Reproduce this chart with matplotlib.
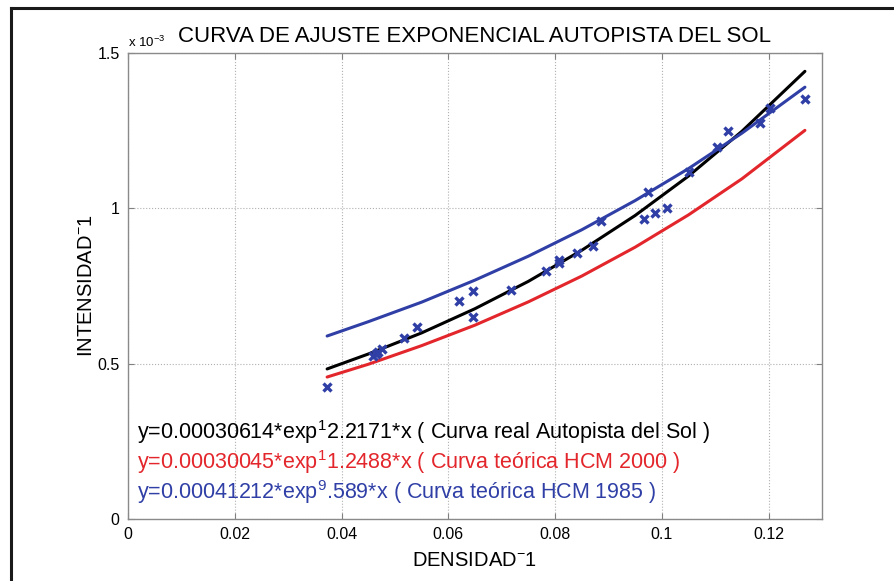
import numpy as np
import matplotlib
matplotlib.use("Agg")
import matplotlib.pyplot as plt
from matplotlib.lines import Line2D

plt.rcParams['font.family'] = ['Liberation Sans', 'DejaVu Sans']
plt.rcParams['mathtext.fontset'] = 'custom'
plt.rcParams['mathtext.rm'] = 'Liberation Sans'
plt.rcParams['mathtext.default'] = 'regular'

# datos medidos (densidad^-1, intensidad^-1 en unidades de 1e-3)
dens = [0.0373, 0.0458, 0.0465, 0.0469, 0.0475, 0.0517, 0.0542, 0.0620,
        0.0646, 0.0647, 0.0717, 0.0783, 0.0807, 0.0807, 0.0842, 0.0871,
        0.0886, 0.0967, 0.0975, 0.0987, 0.1009, 0.1051, 0.1104, 0.1123,
        0.1183, 0.1203, 0.1268]
inten = [0.424, 0.525, 0.531, 0.539, 0.546, 0.582, 0.617, 0.702,
         0.735, 0.651, 0.737, 0.799, 0.835, 0.823, 0.857, 0.879,
         0.960, 0.965, 1.054, 0.984, 1.001, 1.118, 1.198, 1.249,
         1.276, 1.322, 1.352]

# curvas de ajuste (unidades de 1e-3)
xc = [0.0373, 0.045, 0.055, 0.065, 0.075, 0.085, 0.095, 0.105, 0.115, 0.1268]
y_real = [0.483, 0.531, 0.599, 0.677, 0.765, 0.865, 0.977, 1.104, 1.248, 1.441]
y_2000 = [0.457, 0.498, 0.558, 0.624, 0.699, 0.782, 0.875, 0.979, 1.095, 1.251]
y_1985 = [0.589, 0.635, 0.698, 0.769, 0.846, 0.931, 1.025, 1.128, 1.242, 1.390]

etiquetas = ['y=0.00030614*exp$^1$2.2171*x ( Curva real Autopista del Sol )',
             'y=0.00030045*exp$^1$1.2488*x ( Curva teórica HCM 2000 )',
             'y=0.00041212*exp$^9$.589*x ( Curva teórica HCM 1985 )']
pos_y = [0.280, 0.183, 0.087]

negro = '#000000'
rojo = '#e3262b'
azul = '#2f3fa6'

fig = plt.figure(figsize=(8.94, 5.81), dpi=100)
ax = fig.add_axes([128/894, 1 - 519/581, 694/894, 466/581])

ax.plot(xc, y_real, color=negro, lw=2.2, solid_capstyle='round')
ax.plot(xc, y_2000, color=rojo, lw=2.2, solid_capstyle='round')
ax.plot(xc, y_1985, color=azul, lw=2.2, solid_capstyle='round')
ax.plot(dens, inten, 'x', color=azul, ms=6, mew=2.4)

ax.set_xlim(0, 0.13)
ax.set_ylim(0, 1.5)
ax.set_xticks([0, 0.02, 0.04, 0.06, 0.08, 0.1, 0.12])
ax.set_xticklabels(['0', '0.02', '0.04', '0.06', '0.08', '0.1', '0.12'])
ax.set_yticks([0, 0.5, 1, 1.5])
ax.set_yticklabels(['0', '0.5', '1', '1.5'])
ax.tick_params(direction='in', top=True, right=True, length=4, width=0.8,
               color='#808080', labelsize=11.5, pad=6)
for s in ax.spines.values():
    s.set_color('#8a8a8a')
    s.set_linewidth(1.0)
ax.grid(True, linestyle=':', color='#b0b0b0', lw=0.8)

ax.set_title('CURVA DE AJUSTE EXPONENCIAL AUTOPISTA DEL SOL', fontsize=16, pad=8)
ax.set_xlabel('DENSIDAD$^{-}$1', fontsize=14.5, labelpad=6)
ax.set_ylabel('INTENSIDAD$^{-}$1', fontsize=14.5, labelpad=1)
ax.text(0, 1.51, 'x 10$^{-3}$', fontsize=9.5, ha='left', va='bottom')

for t, yy, c in zip(etiquetas, pos_y, [negro, rojo, azul]):
    ax.text(0.0017, yy, t, color=c, fontsize=15.5, va='center')

# marco exterior
fig.add_artist(Line2D([11/894, 1], [1 - 8/581, 1 - 8/581], color='#1a1a1a', lw=2.2))
fig.add_artist(Line2D([11/894, 11/894], [0, 1 - 8/581], color='#1a1a1a', lw=2.2))

fig.savefig('out.png', dpi=100)
